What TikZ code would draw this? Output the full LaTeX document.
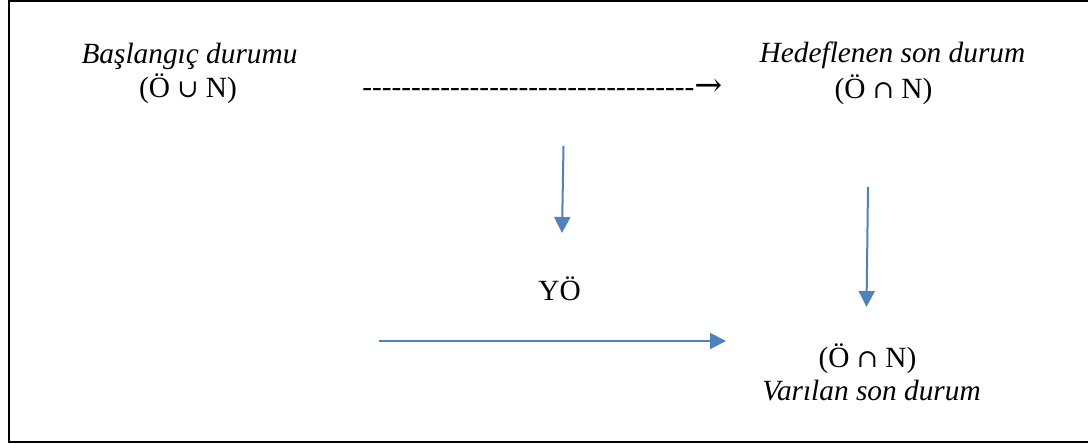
\documentclass[tikz,border=0pt]{standalone}
\usepackage{fontspec}
\setmainfont{Liberation Serif}
\newfontfamily\rawserif[Ligatures=TeXOff]{Liberation Serif}
\newfontfamily\setsymbol{DejaVu Serif}
\usepackage{tikz}
\usetikzlibrary{arrows.meta}
\definecolor{arrowblue}{RGB}{79, 129, 189}

\begin{document}
\begin{tikzpicture}[x=0.75pt, y=-0.75pt,
    every node/.style={font=\fontsize{22}{26}\selectfont, inner sep=0pt},
    bluearrow/.style={arrowblue, line width=1.5pt, -{Triangle[length=12pt, width=12pt]}}]
  \useasboundingbox (0,0) rectangle (1088,443);
  \clip (0,0) rectangle (1088,443);
  % frame
  \draw[line width=1.5pt] (9,1) rectangle (1100,441.5);
  % start state
  \node[anchor=base] (start) at (189.5,63) {\itshape Başlangıç durumu};
  \node[anchor=base] (startset) at (188,97) {(Ö {\setsymbol\fontsize{19}{22}\selectfont ∪} N)};
  % intended end state
  \node[anchor=base] (goal) at (892.5,62) {\itshape Hedeflenen son durum};
  \node[anchor=base] (goalset) at (883.5,98) {(Ö {\setsymbol\fontsize{19}{22}\selectfont ∩} N)};
  % typed arrow
  \node[anchor=base west, font=\rawserif\fontsize{22}{26}\selectfont] (dashline) at (362,96)
    {----------------------------------{\setsymbol\fontsize{25}{26}\selectfont →}};
  % middle label
  \node[anchor=base] (yo) at (559.5,300) {YÖ};
  % reached end state
  \node[anchor=base] (reachset) at (867.5,367) {(Ö {\setsymbol\fontsize{19}{22}\selectfont ∩} N)};
  \node[anchor=base] (reach) at (871.5,400) {\itshape Varılan son durum};
  % blue arrows
  \coordinate (downa) at (563.5,146);
  \coordinate (downaend) at (562,233);
  \coordinate (downb) at (868,187);
  \coordinate (downbend) at (866.5,307);
  \coordinate (across) at (379,341);
  \coordinate (acrossend) at (726,341);
  \draw[bluearrow] (downa) -- (downaend);
  \draw[bluearrow] (downb) -- (downbend);
  \draw[bluearrow] (across) -- (acrossend);
\end{tikzpicture}
\end{document}
